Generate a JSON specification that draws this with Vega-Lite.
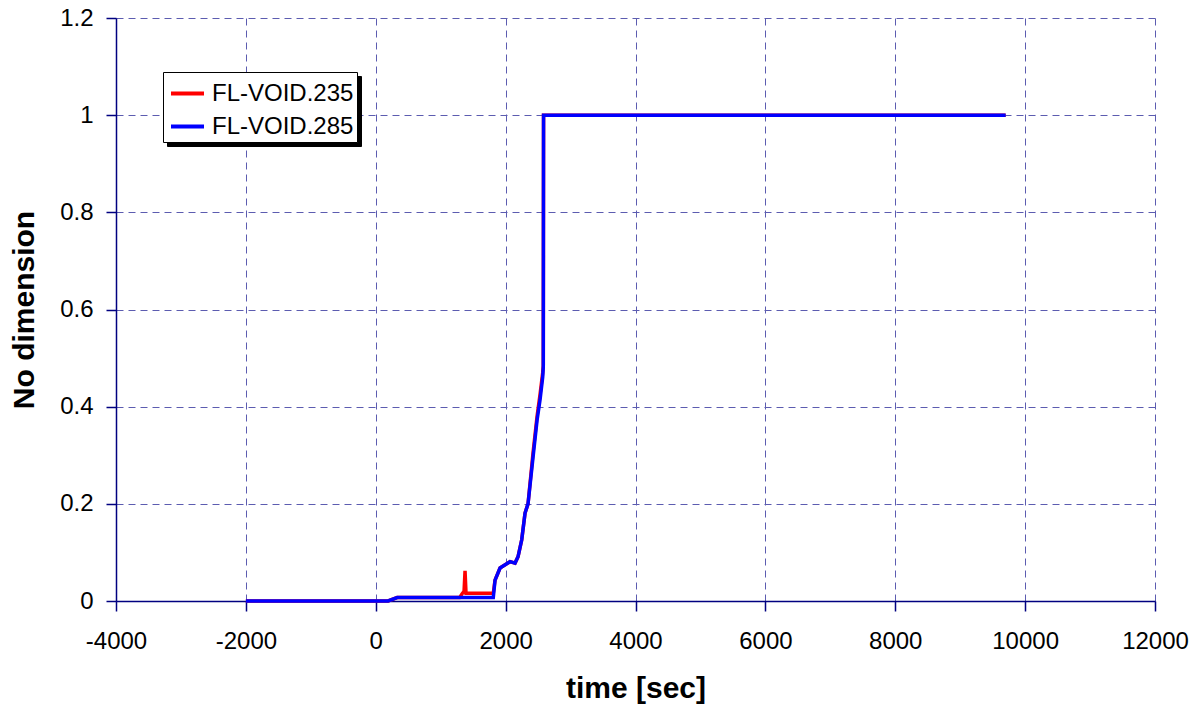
{
  "$schema": "https://vega.github.io/schema/vega-lite/v6.json",
  "autosize": {"type": "none"},
  "padding": {"left": 116, "top": 18, "right": 49, "bottom": 110},
  "width": 1039,
  "height": 583,
  "background": "white",
  "config": {
    "font": "Liberation Sans",
    "view": {"stroke": null},
    "axis": {
      "grid": true,
      "gridColor": "#5c5cb0",
      "gridDash": [7, 5],
      "gridWidth": 1,
      "domainColor": "#000080",
      "domainWidth": 1.5,
      "tickColor": "#000080",
      "tickWidth": 1.5,
      "tickSize": 10,
      "labelColor": "black",
      "labelFontSize": 24,
      "titleFontSize": 30,
      "titleFontWeight": "bold",
      "titleColor": "black"
    }
  },
  "data": {
    "values": [
      {"t": -2000, "v": 0, "s": "FL-VOID.235"},
      {"t": 190, "v": 0, "s": "FL-VOID.235"},
      {"t": 330, "v": 0.007, "s": "FL-VOID.235"},
      {"t": 1290, "v": 0.007, "s": "FL-VOID.235"},
      {"t": 1330, "v": 0.015, "s": "FL-VOID.235"},
      {"t": 1360, "v": 0.02, "s": "FL-VOID.235"},
      {"t": 1375, "v": 0.062, "s": "FL-VOID.235"},
      {"t": 1390, "v": 0.016, "s": "FL-VOID.235"},
      {"t": 1810, "v": 0.016, "s": "FL-VOID.235"},
      {"t": 1837, "v": 0.043, "s": "FL-VOID.235"},
      {"t": 1914, "v": 0.068, "s": "FL-VOID.235"},
      {"t": 2068, "v": 0.081, "s": "FL-VOID.235"},
      {"t": 2145, "v": 0.078, "s": "FL-VOID.235"},
      {"t": 2191, "v": 0.091, "s": "FL-VOID.235"},
      {"t": 2248, "v": 0.126, "s": "FL-VOID.235"},
      {"t": 2299, "v": 0.181, "s": "FL-VOID.235"},
      {"t": 2345, "v": 0.2, "s": "FL-VOID.235"},
      {"t": 2422, "v": 0.305, "s": "FL-VOID.235"},
      {"t": 2484, "v": 0.38, "s": "FL-VOID.235"},
      {"t": 2530, "v": 0.425, "s": "FL-VOID.235"},
      {"t": 2571, "v": 0.47, "s": "FL-VOID.235"},
      {"t": 2580, "v": 0.485, "s": "FL-VOID.235"},
      {"t": 2584, "v": 1.0, "s": "FL-VOID.235"},
      {"t": 9700, "v": 1.0, "s": "FL-VOID.235"},
      {"t": -2000, "v": 0, "s": "FL-VOID.285"},
      {"t": 190, "v": 0, "s": "FL-VOID.285"},
      {"t": 330, "v": 0.007, "s": "FL-VOID.285"},
      {"t": 1810, "v": 0.007, "s": "FL-VOID.285"},
      {"t": 1837, "v": 0.043, "s": "FL-VOID.285"},
      {"t": 1914, "v": 0.068, "s": "FL-VOID.285"},
      {"t": 2068, "v": 0.081, "s": "FL-VOID.285"},
      {"t": 2145, "v": 0.078, "s": "FL-VOID.285"},
      {"t": 2191, "v": 0.091, "s": "FL-VOID.285"},
      {"t": 2248, "v": 0.126, "s": "FL-VOID.285"},
      {"t": 2299, "v": 0.181, "s": "FL-VOID.285"},
      {"t": 2345, "v": 0.2, "s": "FL-VOID.285"},
      {"t": 2422, "v": 0.296, "s": "FL-VOID.285"},
      {"t": 2484, "v": 0.372, "s": "FL-VOID.285"},
      {"t": 2530, "v": 0.414, "s": "FL-VOID.285"},
      {"t": 2571, "v": 0.461, "s": "FL-VOID.285"},
      {"t": 2580, "v": 0.482, "s": "FL-VOID.285"},
      {"t": 2584, "v": 1.0, "s": "FL-VOID.285"},
      {"t": 9700, "v": 1.0, "s": "FL-VOID.285"}
    ]
  },
  "mark": {"type": "line", "strokeWidth": 3.5, "interpolate": "linear"},
  "encoding": {
    "x": {
      "field": "t",
      "type": "quantitative",
      "title": "time [sec]",
      "scale": {"domain": [-4000, 12000], "nice": false, "zero": false},
      "axis": {"values": [-4000, -2000, 0, 2000, 4000, 6000, 8000, 10000, 12000], "labelExpr": "datum.value < 0 ? '-' + format(-datum.value, 'd') : format(datum.value, 'd')", "labelPadding": 18, "titlePadding": 20, "labelFlush": false}
    },
    "y": {
      "field": "v",
      "type": "quantitative",
      "title": "No dimension",
      "scale": {"domain": [0, 1.2], "nice": false},
      "axis": {"values": [0, 0.2, 0.4, 0.6, 0.8, 1, 1.2], "labelPadding": 13, "titlePadding": 20, "labelExpr": "datum.value == 0 ? '0' : datum.value == 1 ? '1' : format(datum.value, '.1f')"}
    },
    "color": {
      "field": "s",
      "type": "nominal",
      "scale": {"domain": ["FL-VOID.235", "FL-VOID.285"], "range": ["#ff0000", "#0000ff"]},
      "legend": {
        "orient": "none",
        "legendX": 47,
        "legendY": 54,
        "zindex": 2,
        "title": null,
        "fillColor": "white",
        "strokeColor": "black",
        "padding": 3,
        "symbolOffset": 3,
        "symbolType": "stroke",
        "symbolSize": 1089,
        "symbolStrokeWidth": 4,
        "labelFontSize": 24,
        "labelOffset": 6,
        "rowPadding": 2,
        "labelLimit": 400,
        "labelColor": "black"
      }
    },
    "opacity": {
      "field": "s",
      "type": "nominal",
      "scale": {"range": [1, 1]},
      "legend": {
        "orient": "none",
        "legendX": 51,
        "legendY": 58,
        "zindex": 1,
        "title": null,
        "fillColor": "black",
        "strokeColor": "black",
        "padding": 3,
        "symbolOffset": 3,
        "symbolType": "stroke",
        "symbolSize": 1089,
        "symbolStrokeWidth": 4,
        "symbolStrokeColor": "black",
        "labelExpr": "' '",
        "labelFontSize": 24,
        "labelOffset": 148,
        "rowPadding": 2,
        "labelLimit": 400,
        "labelColor": "black"
      }
    }
  }
}
